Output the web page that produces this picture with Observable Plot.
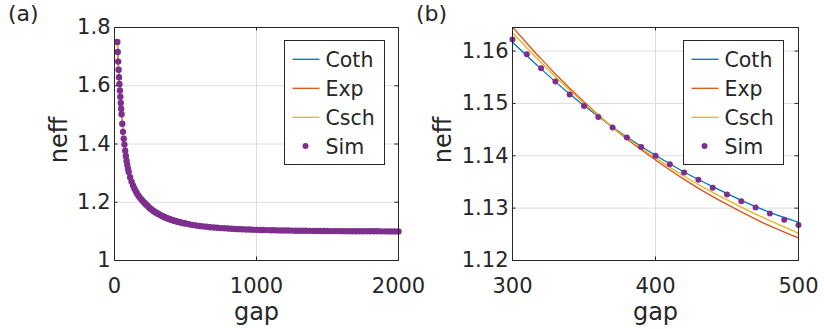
<!DOCTYPE html>
<html><head><meta charset="utf-8">
<script src="https://cdn.jsdelivr.net/npm/d3@7"></script>
<script src="https://cdn.jsdelivr.net/npm/@observablehq/plot@0.6"></script>
<style>
body{margin:0;background:#fff;}
#fig{position:relative;width:824px;height:329px;font-family:"DejaVu Sans",sans-serif;}
#fig > svg{position:absolute;top:0;}
</style></head><body><div id="fig"></div>
<script>
// ---------- data ----------
const seriesNames = ["Coth", "Exp", "Csch", "Sim"];
const seriesColors = ["#0072BD", "#D95319", "#EDB120", "#7E2F8E"];

// panel (a) ticks
const xTicksA = [0, 1000, 2000];
const xLabelsA = ["0", "1000", "2000"];
const yTicksA = [1, 1.2, 1.4, 1.6, 1.8];
const yLabelsA = ["1", "1.2", "1.4", "1.6", "1.8"];
// panel (b) ticks
const xTicksB = [300, 400, 500];
const xLabelsB = ["300", "400", "500"];
const yTicksB = [1.12, 1.13, 1.14, 1.15, 1.16];
const yLabelsB = ["1.12", "1.13", "1.14", "1.15", "1.16"];

// panel (a) simulation points
const simGapA = [20,23,26,29,32,35,38,41,44,47,50,55,60,65,70,75,80,85,90,95,100,
  110,120,130,140,150,160,170,180,190,200,210,220,230,240,250,260,270,280,290,
  300,310,320,330,340,350,360,370,380,390,400,410,420,430,440,450,460,470,480,490,500,
  525,550,575,600,625,650,675,700,725,750,775,800,825,850,875,900,925,950,975,1000,
  1025,1050,1075,1100,1125,1150,1175,1200,1225,1250,1275,1300,1325,1350,1375,1400,
  1425,1450,1475,1500,1525,1550,1575,1600,1625,1650,1675,1700,1725,1750,1775,1800,
  1825,1850,1875,1900,1925,1950,1975,2000];
const simNeffA = [1.750,1.716,1.683,1.655,1.629,1.606,1.584,1.562,1.541,1.521,1.502,1.4693,1.4417,1.4182,1.398,1.377,1.3586,1.3425,1.3282,1.3155,1.304,
  1.2859,1.2709,1.2580,1.2470,1.2375,1.2291,1.2217,1.2151,1.2092,1.2039,1.1986,1.1935,1.1886,1.1840,1.1797,1.1757,1.1719,1.1684,1.1652,
  1.1622,1.1594,1.1567,1.1542,1.1517,1.1495,1.1474,1.1454,1.1435,1.1417,1.1400,1.1384,1.1368,1.1354,1.1339,1.1326,1.1313,1.1301,1.1290,1.1278,1.1268,
  1.1245,1.1223,1.1204,1.1186,1.1171,1.1157,1.1144,1.1133,1.1123,1.1113,1.1105,1.1097,1.1090,1.1083,1.1077,1.1071,1.1066,1.1062,1.1057,1.1053,
  1.1049,1.1046,1.1043,1.1040,1.1037,1.1034,1.1032,1.1030,1.1028,1.1026,1.1024,1.1022,1.1020,1.1019,1.1018,1.1016,
  1.1015,1.1014,1.1013,1.1011,1.1010,1.1010,1.1009,1.1008,1.1007,1.1006,1.1006,1.1005,1.1004,1.1004,1.1003,1.1003,
  1.1002,1.1002,1.1001,1.1001,1.1000,1.1000,1.1000,1.0999];

// panel (a) fitted curves
const lineGapA = [20,23,26,29,32,35,40,45,50,60,70,80,90,100,120,140,160,180,200,250,300,350,400,450,500,600,700,800,1000,1250,1500,2000];
const cothA = [1.750,1.716,1.683,1.655,1.629,1.606,1.569,1.535,1.502,1.4417,1.398,1.3586,1.3282,1.304,1.2709,1.247,1.2291,1.2151,1.2036,1.1792,1.1617,1.1496,1.1401,1.1327,1.1273,1.1192,1.1139,1.1102,1.1058,1.1030,1.1015,1.1003];
const expA  = [1.752,1.717,1.684,1.656,1.630,1.607,1.570,1.536,1.503,1.4425,1.399,1.3595,1.329,1.305,1.2725,1.249,1.2315,1.218,1.208,1.1835,1.1646,1.1503,1.1392,1.1307,1.1243,1.1166,1.1118,1.1088,1.1056,1.1042,1.1037,1.1035];
const cschA = [1.751,1.716,1.683,1.655,1.629,1.606,1.569,1.535,1.502,1.442,1.3985,1.359,1.3285,1.3045,1.2715,1.248,1.2302,1.2165,1.2055,1.1815,1.1635,1.1500,1.1396,1.1315,1.1252,1.1172,1.1122,1.1090,1.1055,1.1035,1.1026,1.1020];

// panel (b) simulation points
const simGapB = [300,310,320,330,340,350,360,370,380,390,400,410,420,430,440,450,460,470,480,490,500];
const simNeffB = [1.1622,1.1594,1.1567,1.1542,1.1517,1.1495,1.1474,1.1454,1.1435,1.1417,1.1400,1.1384,1.1368,1.1354,1.1339,1.1326,1.1313,1.1301,1.1290,1.1278,1.1268];
// panel (b) fitted curves
const lineGapB = [300,320,340,360,380,400,420,440,460,480,500];
const cothB = [1.1617,1.1566,1.1518,1.1475,1.1436,1.1401,1.1369,1.1341,1.1315,1.1292,1.1273];
const expB  = [1.1646,1.1585,1.1529,1.1478,1.1432,1.1392,1.1355,1.1322,1.1293,1.1266,1.1243];
const cschB = [1.1635,1.1578,1.1525,1.1477,1.1434,1.1396,1.1361,1.1330,1.1302,1.1276,1.1252];

// ---------- drawing ----------
const ink = "#262626";
const fig = document.getElementById("fig");

function panel(o) {
  const H = 329, W = 412, mT = 27, mB = 69;
  const plotH = H - mT - mB, plotW = W - o.mL - o.mR, tl = 3.5;
  const toRows = (gs, vs) => gs.map((g, i) => ({gap: g, neff: vs[i]}));
  const lineSets = [o.coth, o.exp, o.csch];
  const marks = [
    Plot.gridX(o.xTicks, {stroke: "#dcdcdc", strokeOpacity: 1}),
    Plot.gridY(o.yTicks, {stroke: "#dcdcdc", strokeOpacity: 1}),
    ...lineSets.map((vals, k) => Plot.line(toRows(o.lineGap, vals), {
      x: "gap", y: "neff", stroke: seriesColors[k], strokeWidth: 1.3, curve: o.curve, clip: true})),
    Plot.dot(toRows(o.simGap, o.simNeff), {x: "gap", y: "neff", r: o.r, fill: seriesColors[3], stroke: null}),
    Plot.frame({stroke: ink, strokeWidth: 1}),
    Plot.tickX(o.xTicks, {x: d => d, insetTop: plotH - tl, stroke: ink}),
    Plot.tickX(o.xTicks, {x: d => d, insetBottom: plotH - tl, stroke: ink}),
    Plot.tickY(o.yTicks, {y: d => d, insetRight: plotW - tl, stroke: ink}),
    Plot.tickY(o.yTicks, {y: d => d, insetLeft: plotW - tl, stroke: ink}),
    Plot.axisX({ticks: o.xTicks, tickFormat: d => o.xLabels[o.xTicks.indexOf(d)], tickSize: 0, tickPadding: 18, label: null, fill: ink}),
    Plot.axisY({ticks: o.yTicks, tickFormat: d => o.yLabels[o.yTicks.indexOf(d)], tickSize: 0, tickPadding: 4, label: null, fill: ink}),
    Plot.text(["gap"], {text: d => d, frameAnchor: "middle", lineAnchor: "middle", textAnchor: "middle", dy: 168, fontSize: 24, fill: ink}),
    Plot.text(["neff"], {text: d => d, frameAnchor: "middle", lineAnchor: "middle", textAnchor: "middle", dx: o.neffDx, dy: -4, rotate: -90, fontSize: 24, fill: ink})
  ];
  const svg = Plot.plot({
    width: W, height: H,
    marginLeft: o.mL, marginRight: o.mR, marginTop: mT, marginBottom: mB,
    x: {domain: o.xDomain, axis: null},
    y: {domain: o.yDomain, axis: null},
    style: {fontFamily: "DejaVu Sans", fontSize: "21px", color: ink, overflow: "visible", background: "transparent"},
    marks
  });
  svg.style.left = o.left + "px";
  fig.appendChild(svg);
}

panel({left: 0, mL: 114, mR: 14, xDomain: [0, 2000], yDomain: [1, 1.8],
  xTicks: xTicksA, xLabels: xLabelsA, yTicks: yTicksA, yLabels: yLabelsA,
  lineGap: lineGapA, coth: cothA, exp: expA, csch: cschA, r: 3.2,
  simGap: simGapA, simNeff: simNeffA, curve: "monotone-x", neffDx: -197});

panel({left: 412, mL: 100, mR: 26, xDomain: [300, 500], yDomain: [1.12, 1.1645],
  xTicks: xTicksB, xLabels: xLabelsB, yTicks: yTicksB, yLabels: yLabelsB,
  lineGap: lineGapB, coth: cothB, exp: expB, csch: cschB, r: 3,
  simGap: simGapB, simNeff: simNeffB, curve: "natural", neffDx: -212});

// ---------- overlay: panel letters and legends ----------
const ov = d3.select(fig).append("svg")
  .attr("width", 824).attr("height", 329)
  .style("left", "0px").style("pointer-events", "none")
  .style("font-family", "DejaVu Sans");

[["(a)", 8], ["(b)", 416]].forEach(([t, x]) => {
  ov.append("text").attr("x", x).attr("y", 21).attr("font-size", 22).attr("fill", ink).text(t);
});

[284.5, 683.5].forEach(bx => {
  const g = ov.append("g").attr("transform", `translate(${bx},40.5)`);
  g.append("rect").attr("width", 100).attr("height", 124).attr("fill", "#fff").attr("stroke", ink).attr("stroke-width", 1);
  const rowY = [18.8, 47.8, 76.8, 105.5];
  seriesNames.forEach((name, i) => {
    if (i < 3) {
      g.append("line").attr("x1", 8).attr("x2", 35).attr("y1", rowY[i]).attr("y2", rowY[i])
        .attr("stroke", seriesColors[i]).attr("stroke-width", 1.3);
    } else {
      g.append("circle").attr("cx", 21).attr("cy", rowY[i]).attr("r", 3).attr("fill", seriesColors[i]);
    }
    g.append("text").attr("x", 41).attr("y", rowY[i] + 7.5).attr("font-size", 20.5).attr("fill", ink).text(name);
  });
});
</script></body></html>
